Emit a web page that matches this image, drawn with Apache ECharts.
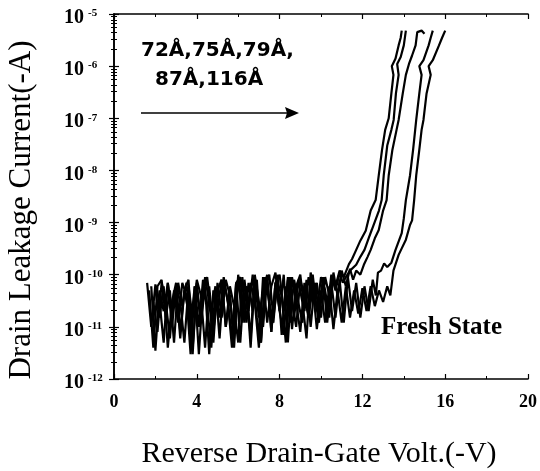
<!DOCTYPE html>
<html>
<head>
<meta charset="utf-8">
<script src="https://cdn.jsdelivr.net/npm/echarts@6/dist/echarts.min.js"></script>
<style>html,body{margin:0;padding:0;background:#fff;}#c{width:540px;height:471px;}</style>
</head>
<body>
<div id="c"></div>
<script>
// X axis ticks (V) and Y axis decades (A)
const xTicks = [0, 4, 8, 12, 16, 20];
const yMin = 1e-12, yMax = 1e-5;

// Five drain-leakage curves [voltage (-V), current (-A)]
const curve72 = [[1.6,7e-11],[1.8,1e-11],[2.0,6.5e-11],[2.2,3e-11],[2.4,5e-12],[2.6,7e-11],[2.8,2e-11],[3.0,6e-11],[3.2,6e-12],[3.4,5e-11],[3.6,8e-11],[3.8,4e-12],[4.0,5e-11],[4.2,1.2e-11],[4.4,9e-11],[4.6,3e-11],[4.8,5e-12],[5.0,7e-11],[5.2,1.5e-11],[5.4,8e-11],[5.6,4e-11],[5.8,4e-12],[6.0,9e-11],[6.2,2e-11],[6.4,6e-11],[6.6,6e-12],[6.8,1e-10],[7.0,3e-11],[7.2,1e-11],[7.4,8e-11],[7.6,8e-12],[7.8,7e-11],[8.0,1e-10],[8.2,2e-11],[8.4,8e-11],[8.6,9e-12],[8.8,6e-11],[9.0,1e-10],[9.2,2e-11],[9.4,9e-11],[9.6,3e-11],[9.8,7e-11],[10.0,1.5e-11],[10.2,9e-11],[10.4,4e-11],
  [10.55,9e-11],[10.7,6e-11],[10.9,1.2e-10],[11.1,9e-11],[11.35,1.6e-10],[11.5,2e-10],[11.7,3e-10],[11.9,4.5e-10],[12.16,7e-10],[12.4,1.7e-9],[12.64,2.7e-9],[12.79,8e-9],[12.95,2.5e-8],[13.1,6e-8],[13.27,1e-7],[13.4,3e-7],[13.5,6.8e-7],[13.42,1e-6],[13.6,1.4e-6],[13.75,2.5e-6],[13.85,3.5e-6],[13.9,4.8e-6]];
const curve75 = [[1.7,5e-11],[1.9,4e-12],[2.1,6e-11],[2.3,8e-11],[2.5,1.5e-11],[2.7,5e-11],[2.9,5e-12],[3.1,7e-11],[3.3,2.5e-11],[3.5,7e-11],[3.7,1e-11],[3.9,6e-11],[4.1,3e-12],[4.3,5e-11],[4.5,9e-11],[4.7,2e-11],[4.9,6e-11],[5.1,6e-12],[5.3,8e-11],[5.5,3e-11],[5.7,4e-12],[5.9,7e-11],[6.1,9e-11],[6.3,1.2e-11],[6.5,7e-11],[6.7,2e-11],[6.9,8e-11],[7.1,5e-12],[7.3,6e-11],[7.5,1e-10],[7.7,1.5e-11],[7.9,7e-11],[8.1,4e-11],[8.3,5e-12],[8.5,9e-11],[8.7,1.5e-11],[8.9,8e-11],[9.1,3e-11],[9.3,6e-12],[9.5,1.1e-10],[9.7,4e-11],[9.9,1.2e-11],[10.1,8e-11],[10.3,2e-11],[10.5,1e-10],[10.7,5e-11],[10.9,1.1e-10],
  [11.05,7e-11],[11.2,9e-11],[11.4,1.2e-10],[11.7,1.55e-10],[11.9,2.2e-10],[12.1,3e-10],[12.3,5e-10],[12.45,7.2e-10],[12.8,1.7e-9],[12.93,2.7e-9],[13.03,8e-9],[13.2,3e-8],[13.4,6e-8],[13.51,9.3e-8],[13.62,3e-7],[13.75,6.8e-7],[13.68,1.1e-6],[13.85,1.5e-6],[14.0,2.5e-6],[14.1,4.8e-6]];
const curve79 = [[1.8,6e-11],[2.0,3.5e-12],[2.2,5e-11],[2.4,2e-11],[2.6,7e-11],[2.8,1e-11],[3.0,6e-11],[3.2,3e-11],[3.4,5e-12],[3.6,6e-11],[3.8,1.5e-11],[4.0,8e-11],[4.2,4e-11],[4.4,4e-12],[4.6,6e-11],[4.8,8e-12],[5.0,5e-11],[5.2,8e-11],[5.4,1e-11],[5.6,6e-11],[5.8,2.5e-11],[6.0,5e-12],[6.2,9e-11],[6.4,1.2e-11],[6.6,7e-11],[6.8,3e-11],[7.0,4e-12],[7.2,9e-11],[7.4,1.2e-11],[7.6,6e-11],[7.8,1.1e-10],[8.0,2e-11],[8.2,7e-12],[8.4,9e-11],[8.6,3e-11],[8.8,1e-11],[9.0,8e-11],[9.2,4e-11],[9.4,1.5e-11],[9.6,1e-10],[9.8,2e-11],[10.0,9e-11],[10.2,5e-11],[10.4,1.5e-11],[10.6,1.1e-10],[10.8,4e-11],[11.0,1.2e-10],[11.2,6e-11],[11.4,1.3e-10],
  [11.55,8e-11],[11.7,1.2e-10],[11.9,1e-10],[12.07,1.55e-10],[12.25,2.2e-10],[12.4,3e-10],[12.6,5e-10],[12.79,7.2e-10],[13.0,1.7e-9],[13.17,2.7e-9],[13.27,8e-9],[13.45,2.5e-8],[13.65,6e-8],[13.75,9.3e-8],[13.95,3e-7],[14.1,6.8e-7],[14.25,1.1e-6],[14.4,1.6e-6],[14.57,2.5e-6],[14.65,4.5e-6],[14.86,4.8e-6],[15.0,4.2e-6]];
const curve87 = [[1.9,3e-11],[2.1,8e-12],[2.3,7e-11],[2.5,3e-11],[2.7,6e-12],[2.9,5e-11],[3.1,1.2e-11],[3.3,7e-11],[3.5,4e-11],[3.7,3e-12],[3.9,6e-11],[4.1,1e-11],[4.3,8e-11],[4.5,2.5e-11],[4.7,4e-12],[4.9,5e-11],[5.1,1.5e-11],[5.3,9e-11],[5.5,3e-11],[5.7,6e-12],[5.9,7e-11],[6.1,5e-12],[6.3,8e-11],[6.5,2e-11],[6.7,1e-10],[6.9,1.5e-11],[7.1,5e-12],[7.3,9e-11],[7.5,3e-11],[7.7,1.2e-11],[7.9,1e-10],[8.1,7e-12],[8.3,6e-11],[8.5,1.2e-11],[8.7,8e-11],[8.9,3e-11],[9.1,1.2e-11],[9.3,8e-11],[9.5,1e-11],[9.7,7e-11],[9.9,2e-11],[10.1,9e-11],[10.3,1.2e-11],[10.5,7e-11],[10.7,1.5e-11],[10.9,8e-11],[11.1,1.2e-11],[11.3,9e-11],[11.5,2e-11],[11.7,7e-11],[11.9,1.5e-11],[12.1,6e-11],[12.3,2e-11],[12.5,8e-11],
  [12.65,4e-11],[12.75,1.1e-10],[12.9,1.2e-10],[13.05,1.65e-10],[13.2,1.4e-10],[13.4,1.7e-10],[13.6,3e-10],[13.9,6.3e-10],[14.0,1.2e-9],[14.1,2.7e-9],[14.3,8e-9],[14.45,2.5e-8],[14.55,6e-8],[14.6,9.3e-8],[14.75,3e-7],[14.86,6.8e-7],[14.75,1e-6],[14.95,1.3e-6],[15.2,2.5e-6],[15.3,3.5e-6],[15.4,4.8e-6]];
const curve116 = [[2.0,5e-11],[2.2,1.5e-11],[2.4,6e-11],[2.6,4e-12],[2.8,3e-11],[3.0,7e-11],[3.2,8e-12],[3.4,5e-11],[3.6,2e-11],[3.8,3e-12],[4.0,7e-11],[4.2,1.2e-11],[4.4,6e-11],[4.6,3e-12],[4.8,5e-11],[5.0,2e-11],[5.2,8e-11],[5.4,1e-11],[5.6,4e-11],[5.8,6e-12],[6.0,1e-10],[6.2,1.2e-11],[6.4,6e-11],[6.6,4e-12],[6.8,8e-11],[7.0,1.5e-11],[7.2,5e-11],[7.4,1e-10],[7.6,8e-12],[7.8,7e-11],[8.0,2e-11],[8.2,1e-10],[8.4,5e-12],[8.6,9e-11],[8.8,3e-11],[9.0,8e-12],[9.2,7e-11],[9.4,1.5e-11],[9.6,6e-11],[9.8,9e-12],[10.0,5e-11],[10.2,1.2e-11],[10.4,6e-11],[10.6,9e-12],[10.8,5e-11],[11.0,1.2e-11],[11.2,6e-11],[11.4,1.5e-11],[11.6,5e-11],[11.8,1.8e-11],[12.0,5.5e-11],[12.2,2e-11],[12.4,6e-11],[12.6,2.5e-11],[12.8,5e-11],[13.0,3e-11],[13.2,6e-11],
  [13.35,4e-11],[13.5,1.2e-10],[13.75,2.4e-10],[13.9,3.2e-10],[14.1,4.7e-10],[14.3,9e-10],[14.4,1.1e-9],[14.5,2.7e-9],[14.6,8e-9],[14.75,2.5e-8],[14.86,6e-8],[14.95,9.3e-8],[15.1,3e-7],[15.3,6.8e-7],[15.2,1e-6],[15.4,1.3e-6],[15.7,2.5e-6],[15.85,3.5e-6],[16.0,4.8e-6]];

const curves = [curve72, curve75, curve79, curve87, curve116];
const annotation1 = '72Å,75Å,79Å,';
const annotation2 = '87Å,116Å';
const stateLabel = 'Fresh State';
const xTitle = 'Reverse Drain-Gate Volt.(-V)';
const yTitle = 'Drain Leakage Current(-A)';

const serif = '"Liberation Serif","Times New Roman",serif';
const chart = echarts.init(document.getElementById('c'), null, {renderer: 'canvas'});

const axisLineStyle = {color: '#000', width: 1.6};
const baseX = {
  type: 'value', min: xTicks[0], max: xTicks[xTicks.length - 1], interval: 4,
  axisLine: {show: true, lineStyle: axisLineStyle},
  axisTick: {show: true, inside: true, length: 5, lineStyle: {color: '#000', width: 1.2}},
  minorTick: {show: true, splitNumber: 2, length: 3, lineStyle: {color: '#000', width: 1}},
  splitLine: {show: false}
};
const baseY = {
  type: 'log', logBase: 10, min: yMin, max: yMax,
  axisLine: {show: true, lineStyle: axisLineStyle},
  axisTick: {show: true, inside: true, length: 5, lineStyle: {color: '#000', width: 1.2}},
  minorTick: {show: true, splitNumber: 8, length: 3, lineStyle: {color: '#000', width: 1}},
  splitLine: {show: false}
};

chart.setOption({
  animation: false,
  backgroundColor: '#fff',
  grid: {left: 114, right: 10, top: 14, bottom: 92},
  xAxis: [
    Object.assign({}, baseX, {
      position: 'bottom',
      axisLabel: {color: '#000', fontFamily: serif, fontWeight: 'bold', fontSize: 18, margin: 14}
    }),
    Object.assign({}, baseX, {position: 'top', axisLabel: {show: false}})
  ],
  yAxis: [
    Object.assign({}, baseY, {
      position: 'left',
      axisLabel: {
        align: 'left', margin: 50, padding: [8, 0, 0, 0],
        formatter: function (v) {
          const e = Math.round(Math.log10(v));
          return '{b|10}{s|-' + Math.abs(e) + '}';
        },
        rich: {
          b: {color: '#000', fontFamily: serif, fontWeight: 'bold', fontSize: 20, lineHeight: 20, verticalAlign: 'bottom'},
          s: {color: '#000', fontFamily: serif, fontWeight: 'bold', fontSize: 11, lineHeight: 11, padding: [0, 0, 12, 4], verticalAlign: 'top'}
        }
      }
    }),
    Object.assign({}, baseY, {position: 'right', axisLabel: {show: false}})
  ],
  series: curves.map(function (d) {
    return {
      type: 'line', data: d, xAxisIndex: 0, yAxisIndex: 0,
      symbol: 'none', showSymbol: false,
      lineStyle: {color: '#000', width: 2.2},
      silent: true
    };
  }),
  graphic: [
    {type: 'text', left: 141, top: 41, style: {text: annotation1, fill: '#000', font: 'bold 20px "DejaVu Sans"'}},
    {type: 'text', left: 155, top: 70, style: {text: annotation2, fill: '#000', font: 'bold 20px "DejaVu Sans"'}},
    {type: 'line', shape: {x1: 141, y1: 113, x2: 288, y2: 113}, style: {stroke: '#000', lineWidth: 1.5}},
    {type: 'polygon', shape: {points: [[299, 113], [285, 107], [287, 113], [285, 119]]}, style: {fill: '#000'}},
    {type: 'text', left: 381, top: 315, style: {text: stateLabel, fill: '#000', font: 'bold 25px ' + serif}},
    {type: 'text', x: 319, y: 454, style: {text: xTitle, fill: '#000', font: '30px ' + serif, textAlign: 'center', textVerticalAlign: 'middle'}},
    {type: 'text', x: 22, y: 210, rotation: Math.PI / 2, style: {text: yTitle, fill: '#000', font: '31px ' + serif, textAlign: 'center', textVerticalAlign: 'middle'}}
  ]
});
</script>
</body>
</html>
